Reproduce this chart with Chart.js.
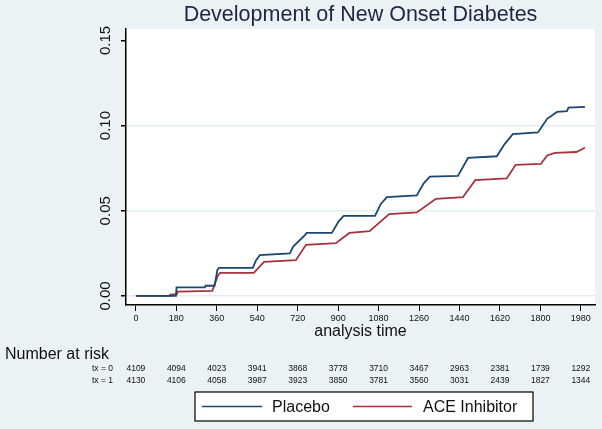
<!DOCTYPE html>
<html lang="en">
<head>
    <meta charset="utf-8"/>
    <script src="https://cdn.jsdelivr.net/npm/chart.js@4.4.0/dist/chart.umd.min.js"></script>
    <style>
        html, body { margin: 0; padding: 0; background: #eaf2f3; }
        #wrap { width: 602px; height: 429px; }
    </style>
</head>
<body>
    <div id="wrap"><canvas id="km"></canvas></div>
    <script>
        // cumulative incidence
        var placeboDays = [0, 178, 181, 307, 310, 350, 363, 370, 520, 535, 552, 685, 700, 752, 760, 872, 903, 925,
            1064, 1090, 1117, 1250, 1280, 1308, 1433, 1478, 1606, 1640, 1677, 1789, 1830, 1874, 1918, 1925, 1998];
        var placeboRisk = [0, 0, 0.005, 0.005, 0.006, 0.006, 0.0155, 0.0165, 0.0165, 0.021, 0.024, 0.025, 0.029, 0.0357, 0.037, 0.037, 0.044, 0.047,
            0.047, 0.054, 0.058, 0.059, 0.066, 0.070, 0.0705, 0.081, 0.082, 0.089, 0.095, 0.096, 0.104, 0.108, 0.1085, 0.1105, 0.111];
        var aceDays = [0, 151, 153, 182, 186, 340, 365, 375, 525, 570, 712, 757, 890, 950, 1040, 1127, 1250, 1335,
            1455, 1510, 1650, 1690, 1802, 1830, 1865, 1960, 1998];
        var aceRisk = [0, 0, 0.0008, 0.001, 0.0025, 0.003, 0.012, 0.0135, 0.0135, 0.020, 0.021, 0.030, 0.031, 0.037, 0.038, 0.048, 0.049, 0.057,
            0.058, 0.068, 0.069, 0.077, 0.0775, 0.0825, 0.084, 0.0845, 0.087];

        var xTicks = [0, 180, 360, 540, 720, 900, 1080, 1260, 1440, 1620, 1800, 1980];
        var yTicks = [0, 0.05, 0.10, 0.15];
        var yTickLabels = ["0.00", "0.05", "0.10", "0.15"];

        // number at risk
        var atRiskLabels = ["tx = 0", "tx = 1"];
        var atRiskPlacebo = [4109, 4094, 4023, 3941, 3868, 3778, 3710, 3467, 2963, 2381, 1739, 1292];
        var atRiskAce = [4130, 4106, 4058, 3987, 3923, 3850, 3781, 3560, 3031, 2439, 1827, 1344];

        var titleText = "Development of New Onset Diabetes";
        var xTitle = "analysis time";

        function pts(xs, ys) {
            return xs.map(function(x, i) { return {x: x, y: ys[i]}; });
        }

        var FONT = "'Liberation Sans', Arial, sans-serif";

        var stataPlugin = {
            id: "stata",
            beforeDraw: function(chart) {
                var ctx = chart.ctx, a = chart.chartArea;
                ctx.save();
                ctx.fillStyle = "#eaf2f3";
                ctx.fillRect(0, 0, chart.width, chart.height);
                ctx.fillStyle = "#ffffff";
                ctx.fillRect(a.left, a.top, a.right - a.left, a.bottom - a.top);
                ctx.restore();
            },
            afterDraw: function(chart) {
                var ctx = chart.ctx, a = chart.chartArea;
                var xs = chart.scales.x, ys = chart.scales.y;
                var mid = (a.left + a.right) / 2;
                ctx.save();

                // title
                ctx.fillStyle = "#1e2545";
                ctx.font = "21.5px " + FONT;
                ctx.textAlign = "center";
                ctx.textBaseline = "middle";
                ctx.fillText(titleText, mid, 15);

                // rotated y tick labels
                ctx.fillStyle = "#111";
                ctx.font = "15px " + FONT;
                yTicks.forEach(function(v, i) {
                    ctx.save();
                    ctx.translate(106, ys.getPixelForValue(v));
                    ctx.rotate(-Math.PI / 2);
                    ctx.fillText(yTickLabels[i], 0, 0);
                    ctx.restore();
                });

                // x axis title
                ctx.font = "16px " + FONT;
                ctx.fillText(xTitle, mid, 332);

                // number at risk table
                ctx.textAlign = "left";
                ctx.font = "16px " + FONT;
                ctx.fillText("Number at risk", 5, 355);
                ctx.font = "8.5px " + FONT;
                ctx.textAlign = "right";
                ctx.fillText(atRiskLabels[0], 113, 369);
                ctx.fillText(atRiskLabels[1], 113, 381);
                ctx.textAlign = "center";
                xTicks.forEach(function(v, i) {
                    var px = xs.getPixelForValue(v);
                    ctx.fillText(String(atRiskPlacebo[i]), px, 369);
                    ctx.fillText(String(atRiskAce[i]), px, 381);
                });

                // legend box
                var lx = 195, ly = 392, lw = 338, lh = 29;
                ctx.fillStyle = "#ffffff";
                ctx.fillRect(lx, ly, lw, lh);
                ctx.strokeStyle = "#000";
                ctx.lineWidth = 1.2;
                ctx.strokeRect(lx, ly, lw, lh);
                var items = [[202, 262, 272], [353, 412, 423]];
                ctx.font = "16px " + FONT;
                ctx.textAlign = "left";
                chart.data.datasets.forEach(function(ds, i) {
                    var it = items[i];
                    ctx.strokeStyle = ds.borderColor;
                    ctx.lineWidth = 1.5;
                    ctx.beginPath();
                    ctx.moveTo(it[0], ly + lh / 2);
                    ctx.lineTo(it[1], ly + lh / 2);
                    ctx.stroke();
                    ctx.fillStyle = "#111";
                    ctx.fillText(ds.label, it[2], ly + lh / 2 + 1);
                });
                ctx.restore();
            }
        };

        new Chart(document.getElementById("km"), {
            type: "line",
            data: {
                datasets: [
                    {
                        label: "Placebo",
                        data: pts(placeboDays, placeboRisk),
                        borderColor: "#1a476f",
                        borderWidth: 1.8,
                        pointRadius: 0,
                        tension: 0
                    },
                    {
                        label: "ACE Inhibitor",
                        data: pts(aceDays, aceRisk),
                        borderColor: "#a8313c",
                        borderWidth: 1.8,
                        pointRadius: 0,
                        tension: 0
                    }
                ]
            },
            options: {
                responsive: true,
                maintainAspectRatio: false,
                animation: false,
                layout: { padding: { left: 0, right: 7, top: 29, bottom: 0 } },
                plugins: {
                    legend: { display: false },
                    tooltip: { enabled: false }
                },
                scales: {
                    x: {
                        type: "linear",
                        min: -44,
                        max: 2043,
                        afterBuildTicks: function(s) { s.ticks = xTicks.map(function(v) { return {value: v}; }); },
                        afterFit: function(s) { s.height = 124; },
                        border: { color: "#000", width: 1.5 },
                        grid: { drawOnChartArea: false, drawTicks: true, tickLength: 6, tickColor: "#000" },
                        ticks: {
                            color: "#111",
                            font: { family: FONT, size: 9 },
                            padding: 2,
                            maxRotation: 0,
                            autoSkip: false,
                            callback: function(v) { return String(v); }
                        }
                    },
                    y: {
                        min: -0.0053,
                        max: 0.1567,
                        afterBuildTicks: function(s) { s.ticks = yTicks.map(function(v) { return {value: v}; }); },
                        afterFit: function(s) { s.width = 126; },
                        border: { color: "#000", width: 1.5 },
                        grid: {
                            color: function(c) { return c.tick && c.tick.value > 0.12 ? "rgba(0,0,0,0)" : "#e3eef0"; },
                            lineWidth: 1.5,
                            drawTicks: true,
                            tickLength: 5,
                            tickColor: "#000"
                        },
                        ticks: { display: false }
                    }
                }
            },
            plugins: [stataPlugin]
        });
    </script>
</body>
</html>
